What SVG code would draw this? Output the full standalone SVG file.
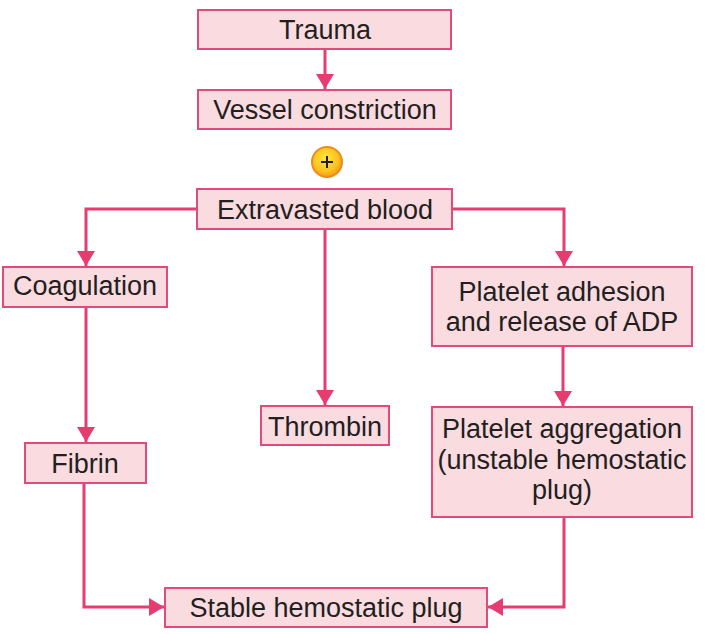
<svg xmlns="http://www.w3.org/2000/svg" width="705" height="634" viewBox="0 0 705 634">
<defs>
<style>
.box{fill:#fadbe0;stroke:#e24a7c;stroke-width:2}
.t{font-family:"Liberation Sans",Arial,sans-serif;font-size:27px;fill:#231f20;text-anchor:middle}
.c{fill:none;stroke:#e63c70;stroke-width:3}
</style>
<marker id="ah" markerUnits="userSpaceOnUse" markerWidth="20" markerHeight="20" viewBox="0 0 20 20" refX="15" refY="10" orient="auto">
<path d="M0,1 L15,10 L0,19 Z" fill="#e63c70"/>
</marker>
<radialGradient id="pg" cx="0.45" cy="0.4" r="0.6">
<stop offset="0" stop-color="#ffe840"/>
<stop offset="0.7" stop-color="#fcc21a"/>
<stop offset="1" stop-color="#f39a1c"/>
</radialGradient>
</defs>
<rect width="705" height="634" fill="#fff"/>
<g id="connectors">
<path class="c" d="M325,49 V89" marker-end="url(#ah)"/>
<path class="c" d="M197,209 H86 V266" marker-end="url(#ah)"/>
<path class="c" d="M325,229 V405" marker-end="url(#ah)"/>
<path class="c" d="M452,209 H564 V266" marker-end="url(#ah)"/>
<path class="c" d="M86,307 V442" marker-end="url(#ah)"/>
<path class="c" d="M563,346 V406" marker-end="url(#ah)"/>
<path class="c" d="M84,483 V607 H164" marker-end="url(#ah)"/>
<path class="c" d="M564,517 V607 H488" marker-end="url(#ah)"/>
</g>
<g id="trauma"><rect class="box" x="198" y="10" width="253" height="39"/><text class="t" x="325" y="39">Trauma</text></g>
<g id="vessel"><rect class="box" x="198" y="90" width="253" height="39"/><text class="t" x="325" y="119">Vessel constriction</text></g>
<g id="plus"><circle cx="327" cy="162" r="15" fill="url(#pg)" stroke="#ee8a1f" stroke-width="2"/><path d="M321,162 H333 M327,156 V168" stroke="#231f20" stroke-width="2"/></g>
<g id="extravasted"><rect class="box" x="197" y="189" width="255" height="40"/><text class="t" x="325" y="219">Extravasted blood</text></g>
<g id="coagulation"><rect class="box" x="3" y="267" width="164" height="40"/><text class="t" x="85" y="295">Coagulation</text></g>
<g id="thrombin"><rect class="box" x="261" y="406" width="128" height="39"/><text class="t" x="325" y="436">Thrombin</text></g>
<g id="fibrin"><rect class="box" x="25" y="443" width="121" height="40"/><text class="t" x="85" y="473">Fibrin</text></g>
<g id="adhesion"><rect class="box" x="432" y="267" width="260" height="79"/><text class="t" x="562" y="301">Platelet adhesion</text><text class="t" x="562" y="331">and release of ADP</text></g>
<g id="aggregation"><rect class="box" x="432" y="407" width="260" height="110"/><text class="t" x="562" y="438">Platelet aggregation</text><text class="t" x="562" y="469">(unstable hemostatic</text><text class="t" x="562" y="499">plug)</text></g>
<g id="stable"><rect class="box" x="165" y="588" width="322" height="39"/><text class="t" x="326" y="617">Stable hemostatic plug</text></g>
</svg>
